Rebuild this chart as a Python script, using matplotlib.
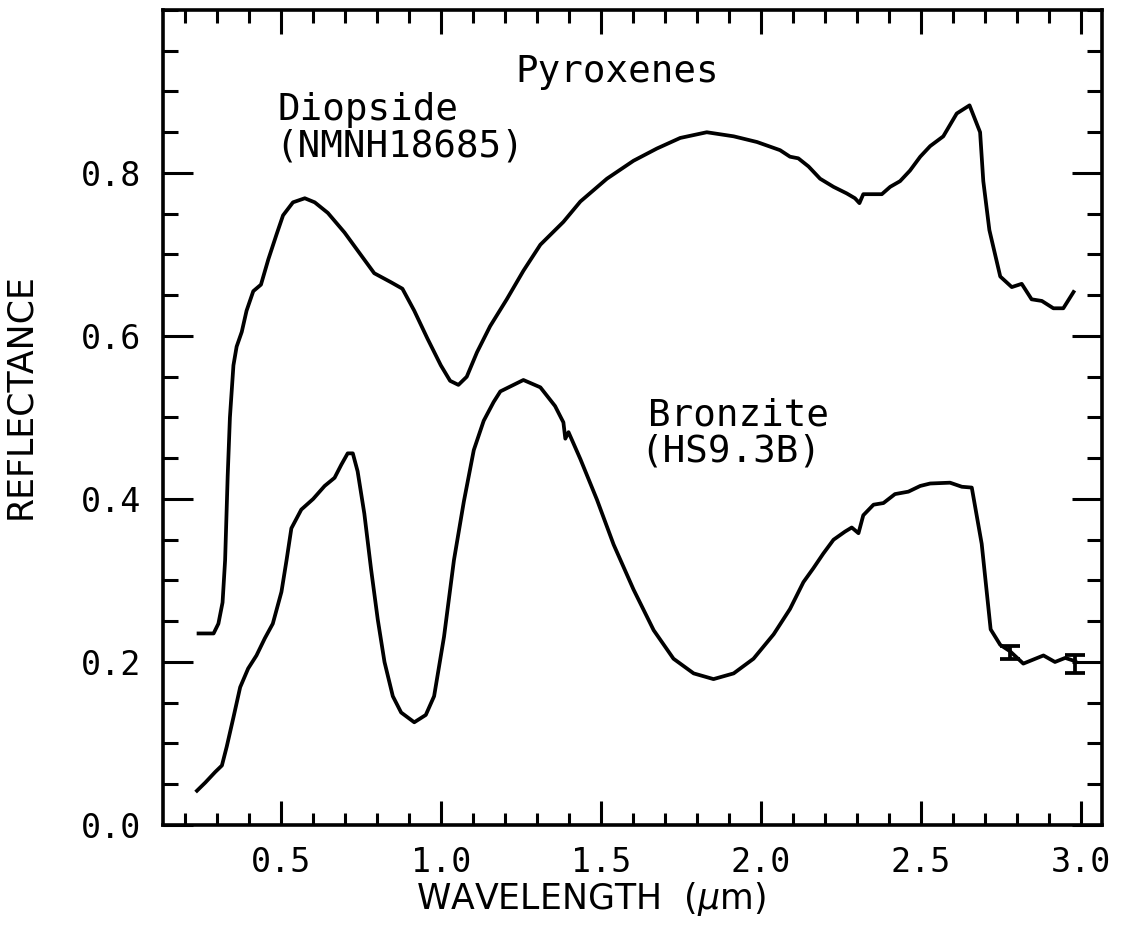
import matplotlib
matplotlib.use("Agg")
import matplotlib.pyplot as plt
from matplotlib.ticker import MultipleLocator

# ---- data ----
diopside_wl = [0.243, 0.29, 0.305, 0.318, 0.326, 0.334, 0.341, 0.352, 0.362, 0.378,
               0.393, 0.414, 0.438, 0.461, 0.487, 0.507, 0.538, 0.575, 0.606, 0.647,
               0.699, 0.751, 0.792, 0.844, 0.880, 0.917, 0.958, 1.0, 1.029, 1.055,
               1.081, 1.113, 1.154, 1.206, 1.258, 1.311, 1.383, 1.436, 1.519, 1.602,
               1.675, 1.748, 1.831, 1.915, 1.988, 2.060, 2.091, 2.117, 2.149, 2.185,
               2.227, 2.268, 2.294, 2.308, 2.320, 2.346, 2.378, 2.404, 2.435, 2.466,
               2.498, 2.529, 2.570, 2.612, 2.652, 2.685, 2.695, 2.714, 2.748, 2.784,
               2.815, 2.846, 2.878, 2.914, 2.945, 2.977]
diopside_refl = [0.235, 0.235, 0.247, 0.273, 0.325, 0.428, 0.50, 0.564, 0.587, 0.605,
                 0.631, 0.655, 0.663, 0.694, 0.725, 0.748, 0.764, 0.769, 0.764, 0.751,
                 0.727, 0.699, 0.677, 0.666, 0.658, 0.631, 0.597, 0.564, 0.545, 0.540,
                 0.550, 0.580, 0.612, 0.645, 0.680, 0.712, 0.740, 0.765, 0.793, 0.815,
                 0.830, 0.843, 0.850, 0.845, 0.838, 0.828, 0.820, 0.818, 0.808, 0.793,
                 0.783, 0.775, 0.769, 0.763, 0.774, 0.774, 0.774, 0.783, 0.790, 0.803,
                 0.820, 0.833, 0.845, 0.873, 0.883, 0.850, 0.790, 0.730, 0.673, 0.660,
                 0.664, 0.645, 0.643, 0.634, 0.634, 0.654]

bronzite_wl = [0.238, 0.264, 0.295, 0.316, 0.331, 0.352, 0.373, 0.398, 0.424, 0.450,
               0.475, 0.502, 0.518, 0.533, 0.564, 0.601, 0.637, 0.668, 0.689, 0.709,
               0.725, 0.740, 0.761, 0.782, 0.803, 0.824, 0.850, 0.876, 0.917, 0.953,
               0.979, 1.010, 1.041, 1.072, 1.103, 1.134, 1.165, 1.186, 1.258, 1.311,
               1.357, 1.383, 1.389, 1.399, 1.436, 1.488, 1.540, 1.602, 1.665, 1.727,
               1.790, 1.852, 1.915, 1.977, 2.040, 2.091, 2.133, 2.164, 2.195, 2.227,
               2.263, 2.284, 2.305, 2.320, 2.352, 2.383, 2.419, 2.461, 2.498, 2.529,
               2.591, 2.628, 2.659, 2.690, 2.718, 2.748, 2.779, 2.820, 2.883, 2.919,
               2.951, 2.982]
bronzite_refl = [0.042, 0.052, 0.065, 0.073, 0.096, 0.132, 0.169, 0.192, 0.208, 0.229,
                 0.247, 0.286, 0.325, 0.364, 0.387, 0.400, 0.416, 0.426, 0.442, 0.456,
                 0.456, 0.434, 0.382, 0.314, 0.252, 0.200, 0.158, 0.138, 0.126, 0.135,
                 0.158, 0.231, 0.325, 0.397, 0.460, 0.496, 0.519, 0.532, 0.546, 0.537,
                 0.514, 0.494, 0.474, 0.482, 0.449, 0.399, 0.344, 0.289, 0.239, 0.204,
                 0.186, 0.179, 0.186, 0.204, 0.234, 0.265, 0.298, 0.315, 0.333, 0.350,
                 0.360, 0.365, 0.358, 0.380, 0.393, 0.395, 0.406, 0.409, 0.416, 0.419,
                 0.420, 0.415, 0.414, 0.345, 0.240, 0.221, 0.213, 0.198, 0.208, 0.200,
                 0.205, 0.201]

errbar_wl = [2.779, 2.982]
errbar_refl = [0.212, 0.197]
errbar_err = [0.008, 0.011]

x_ticks = [0.5, 1.0, 1.5, 2.0, 2.5, 3.0]
x_ticklabels = ["0.5", "1.0", "1.5", "2.0", "2.5", "3.0"]
y_ticks = [0.0, 0.2, 0.4, 0.6, 0.8]
y_ticklabels = ["0.0", "0.2", "0.4", "0.6", "0.8"]

# ---- figure ----
fig = plt.figure(figsize=(11.22, 9.26), dpi=100)
ax = fig.add_axes([0.1453, 0.1091, 0.8369, 0.8801])

ax.plot(diopside_wl, diopside_refl, color="black", lw=2.7, solid_joinstyle="round")
ax.plot(bronzite_wl, bronzite_refl, color="black", lw=2.7, solid_joinstyle="round")
ax.errorbar(errbar_wl, errbar_refl, yerr=errbar_err, fmt="none", ecolor="black",
            elinewidth=2.7, capsize=7, capthick=2.7)

ax.set_xlim(0.132, 3.066)
ax.set_ylim(0.0, 1.0)

mono = "DejaVu Sans Mono"
ax.set_xticks(x_ticks)
ax.set_xticklabels(x_ticklabels, family=mono, fontsize=24)
ax.set_yticks(y_ticks)
ax.set_yticklabels(y_ticklabels, family=mono, fontsize=24)
ax.xaxis.set_minor_locator(MultipleLocator(0.1))
ax.yaxis.set_minor_locator(MultipleLocator(0.05))

ax.tick_params(which="both", direction="in", top=True, right=True, width=2.2, color="black")
ax.tick_params(axis="x", which="major", length=17.5, pad=15)
ax.tick_params(axis="x", which="minor", length=9)
ax.tick_params(axis="y", which="major", length=21.5, pad=16)
ax.tick_params(axis="y", which="minor", length=11)

for s in ax.spines.values():
    s.set_linewidth(2.6)

ax.set_xlabel("WAVELENGTH  ($\\mu$m)", fontsize=25, family="DejaVu Sans")
ax.set_ylabel("REFLECTANCE", fontsize=25, family="DejaVu Sans")
ax.xaxis.set_label_coords(0.456, -0.068)
ax.yaxis.set_label_coords(-0.134, 0.526)

ax.text(1.232, 0.924, "Pyroxenes", family=mono, fontsize=27, ha="left", va="center")
ax.text(0.491, 0.877, "Diopside", family=mono, fontsize=27, ha="left", va="center")
ax.text(0.482, 0.833, "(NMNH18685)", family=mono, fontsize=27, ha="left", va="center")
ax.text(1.648, 0.502, "Bronzite", family=mono, fontsize=27, ha="left", va="center")
ax.text(1.623, 0.458, "(HS9.3B)", family=mono, fontsize=27, ha="left", va="center")

fig.savefig("out.png", dpi=100)
